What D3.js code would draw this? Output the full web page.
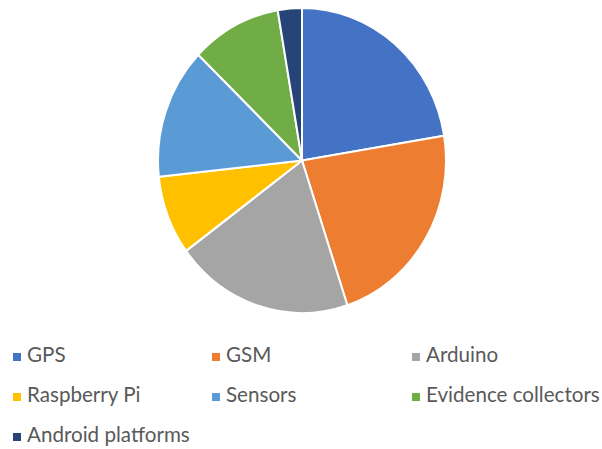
<!DOCTYPE html>
<html>
<head>
<meta charset="utf-8">
<script src="https://cdn.jsdelivr.net/npm/d3@7"></script>
<style>
  body { margin: 0; background: #fff; }
  text { font-family: Lato, sans-serif; fill: #595959; }
</style>
</head>
<body>
<div class="chart"></div>
<script>
// data (percent share of each slice)
const categories = ['GPS', 'GSM', 'Arduino', 'Raspberry Pi', 'Sensors', 'Evidence collectors', 'Android platforms'];
const values = [22.4, 22.5, 20.0, 8.4, 13.9, 10.1, 2.7];
const colors = ['#4472C4', '#ED7D31', '#A5A5A5', '#FFC000', '#5B9BD5', '#70AD47', '#264478'];

const w = 602;
const h = 449;

const data = categories.map((c, i) => ({ name: c, value: values[i] }));

const svg = d3.select('.chart')
  .append('svg')
  .attr('width', w)
  .attr('height', h);

const color = d3.scaleOrdinal().domain(categories).range(colors);

// the picture is a bit stretched vertically, so squash a circle
const r = 144;
const ry = 152.5;

const pie = d3.pie().sort(null).value(d => d.value);
const arc = d3.arc().innerRadius(0).outerRadius(r);

const g = svg.append('g')
  .attr('transform', `translate(302, 160.5) scale(1, ${ry / r})`);

g.selectAll('path')
  .data(pie(data))
  .enter()
  .append('path')
  .attr('d', arc)
  .attr('fill', d => color(d.data.name))
  .attr('stroke', '#fff')
  .attr('stroke-width', 2);

// legend, three per row
const colX = [13, 212, 412];
const rowY = [362, 402, 442];
const box = 8;

const item = svg.selectAll('.legend-item')
  .data(categories)
  .enter()
  .append('g')
  .attr('class', 'legend-item')
  .attr('transform', (_, i) => `translate(${colX[i % 3]}, ${rowY[Math.floor(i / 3)]})`);

item.append('rect')
  .attr('y', -9)
  .attr('width', box)
  .attr('height', box)
  .attr('fill', d => color(d));

item.append('text')
  .attr('x', 14)
  .attr('y', 0)
  .attr('font-size', 20.6)
  .text(d => d);
</script>
</body>
</html>
